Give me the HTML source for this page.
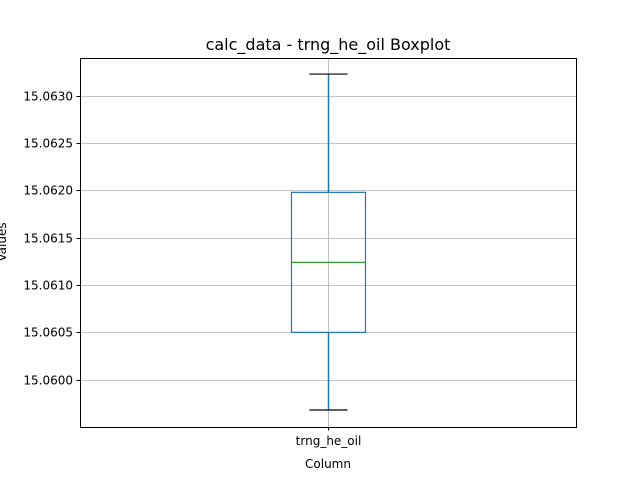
<!DOCTYPE html>
<html><head><meta charset="utf-8"><style>
body{margin:0;background:#fff;}
svg{display:block;font-family:"DejaVu Sans","Liberation Sans",sans-serif;}
</style></head><body>
<svg id="c" width="640" height="480" viewBox="0 0 640 480">
<rect width="640" height="480" fill="#fff"/>
<text x="328" y="50" font-size="16" text-anchor="middle">calc_data - trng_he_oil Boxplot</text>
<g id="grid"></g>
<g id="box"></g>
<rect x="80.5" y="58.5" width="496" height="369" fill="none" stroke="#000" stroke-width="1"/>
<g id="yticks"></g>
<text x="328" y="468" font-size="12" text-anchor="middle">Column</text>
<text transform="translate(6,242) rotate(-90)" font-size="12" text-anchor="middle">Values</text>
</svg>
<script>
const categories=["trng_he_oil"];
const whiskerLow=[15.05968];
const q1=[15.06050];
const median=[15.06124];
const q3=[15.06198];
const whiskerHigh=[15.06323];
const yTicks=[15.0600,15.0605,15.0610,15.0615,15.0620,15.0625,15.0630];
const yMin=15.05950,yMax=15.06340;
const L=80,R=576,T=58,B=427;
const ns="http://www.w3.org/2000/svg";
function y(v){return B-(v-yMin)/(yMax-yMin)*(B-T);}
function x(i){return L+(i+0.5)*(R-L)/categories.length;}
function mk(tag,at,parent){const e=document.createElementNS(ns,tag);for(const k in at)e.setAttribute(k,at[k]);document.getElementById(parent).appendChild(e);return e;}
yTicks.forEach(t=>{
 const yy=Math.round(y(t))+0.5;
 const g=mk('line',{x1:L,x2:R,y1:yy,y2:yy,stroke:'#b0b0b0','stroke-width':0.8},'grid');
 
 
 const tk=mk('line',{x1:L-3.5,x2:L,y1:yy,y2:yy,stroke:'#000'},'yticks');
 
 
 const tx=mk('text',{x:L-7,y:yy+4,'font-size':12,'text-anchor':'end'},'yticks');
 tx.textContent=t.toFixed(4);
 
 
});
categories.forEach((c,i)=>{
 const cx=Math.round(x(i))+0.5;
 const vg=mk('line',{x1:cx,x2:cx,y1:T,y2:B,stroke:'#b0b0b0','stroke-width':0.8},'grid');
 
 
 const hw=37,cw=19,s='#1f77b4';
 const w1=mk('line',{x1:cx,x2:cx,y1:y(q3[i]),y2:y(whiskerHigh[i]),stroke:s,'stroke-width':1.5},'box');
 
 
 const w2=mk('line',{x1:cx,x2:cx,y1:y(q1[i]),y2:y(whiskerLow[i]),stroke:s,'stroke-width':1.5},'box');
 
 
 const c1=mk('line',{x1:cx-cw,x2:cx+cw,y1:y(whiskerHigh[i]),y2:y(whiskerHigh[i]),stroke:'#000','stroke-width':1.2},'box');
 
 
 const c2=mk('line',{x1:cx-cw,x2:cx+cw,y1:y(whiskerLow[i]),y2:y(whiskerLow[i]),stroke:'#000','stroke-width':1.2},'box');
 
 
 const bx=mk('rect',{x:cx-hw,y:y(q3[i]),width:2*hw,height:y(q1[i])-y(q3[i]),fill:'none',stroke:s,'stroke-width':1.2},'box');
 
 
 const md=mk('line',{x1:cx-hw,x2:cx+hw,y1:y(median[i]),y2:y(median[i]),stroke:'#2ca02c','stroke-width':1.2},'box');
 
 
 const xt=mk('line',{x1:cx,x2:cx,y1:B,y2:B+3.5,stroke:'#000'},'yticks');
 
 
 const xl=mk('text',{x:cx,y:B+18,'font-size':12,'text-anchor':'middle'},'yticks');
 xl.textContent=c;
 
 
});
</script>
</body></html>
